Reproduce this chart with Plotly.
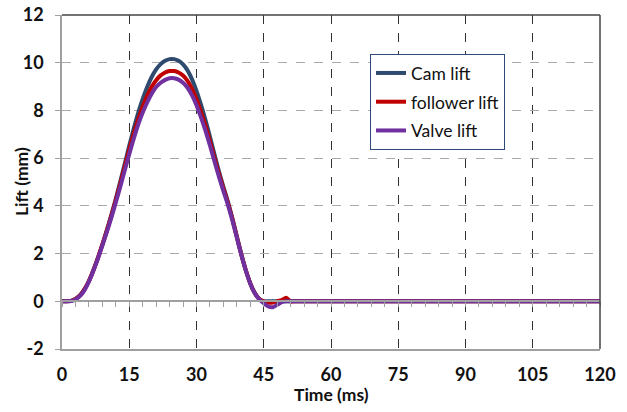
import plotly.graph_objects as go

time_ms = list(range(0, 54)) + [120]

cam_lift = [0, 0, 0.02, 0.1, 0.25, 0.5, 0.85, 1.3, 1.82, 2.38,
            2.98, 3.62, 4.3, 5.02, 5.77, 6.52, 7.24, 7.9, 8.48, 8.98,
            9.4, 9.72, 9.94, 10.08, 10.15, 10.15, 10.08, 9.93, 9.68, 9.3,
            8.82, 8.24, 7.6, 6.9, 6.16, 5.45, 4.8, 4.18, 3.48, 2.72,
            1.97, 1.3, 0.75, 0.35, 0.1, 0, 0, 0, 0, 0,
            0, 0, 0, 0, 0]

follower_lift = [0, 0, 0.02, 0.1, 0.25, 0.5, 0.85, 1.3, 1.81, 2.37,
                 2.96, 3.58, 4.24, 4.93, 5.65, 6.36, 7.03, 7.63, 8.16, 8.61,
                 8.99, 9.27, 9.47, 9.59, 9.65, 9.65, 9.59, 9.46, 9.24, 8.9,
                 8.47, 7.94, 7.36, 6.71, 6.02, 5.34, 4.72, 4.13, 3.45, 2.7,
                 1.96, 1.3, 0.75, 0.35, 0.1, 0.0, -0.05, -0.05, 0.0, 0.05,
                 0.15, 0, 0, 0, 0]

valve_lift = [0, 0, 0.01, 0.08, 0.22, 0.46, 0.82, 1.28, 1.78, 2.33,
              2.9, 3.5, 4.14, 4.8, 5.49, 6.17, 6.82, 7.41, 7.91, 8.34,
              8.7, 8.98, 9.16, 9.28, 9.35, 9.35, 9.29, 9.16, 8.95, 8.63,
              8.22, 7.71, 7.15, 6.53, 5.87, 5.22, 4.62, 4.04, 3.39, 2.66,
              1.94, 1.29, 0.74, 0.34, 0.08, -0.08, -0.22, -0.25, -0.15, -0.04,
              0, 0, 0, 0, 0]

x_ticks = [0, 15, 30, 45, 60, 75, 90, 105, 120]
y_ticks = [-2, 0, 2, 4, 6, 8, 10, 12]

series = [
    ("Cam lift", cam_lift, "#2E4A6E"),
    ("follower lift", follower_lift, "#C00000"),
    ("Valve lift", valve_lift, "#7030A0"),
]

FONT = "Lato"
fig = go.Figure()
for i, (name, vals, col) in enumerate(series):
    fig.add_trace(go.Scatter(
        x=time_ms, y=vals, name=name, mode="lines",
        line=dict(color=col, width=4, shape="spline", smoothing=0.6),
        legendgroup=f"g{i}",
    ))

# helper trace for the zero axis with minor ticks
fig.add_trace(go.Scatter(x=[time_ms[0]], y=[None], xaxis="x2", showlegend=False,
                         hoverinfo="skip", mode="lines"))

fig.update_layout(
    width=627, height=412,
    margin=dict(l=62, r=27, t=15, b=63, autoexpand=False),
    paper_bgcolor="white", plot_bgcolor="white",
    font=dict(family=FONT, size=16, color="#111"),
    showlegend=True,
    legend=dict(
        x=0.5725, y=0.883, xanchor="left", yanchor="top",
        bordercolor="#2F4A7A", borderwidth=1, bgcolor="white",
        font=dict(family=FONT, size=17.5, color="#111"),
        tracegroupgap=3,
    ),
    xaxis=dict(
        range=[0, 120], tickvals=x_ticks, ticktext=[str(v) for v in x_ticks],
        showgrid=True, gridcolor="#333", griddash="dash", gridwidth=1,
        showline=True, linecolor="#A0A0A0", linewidth=1.5,
        ticks="", ticklabelstandoff=9, automargin=False,
        tickfont=dict(family=FONT, size=18, color="#111", weight="bold"),
        zeroline=False,
    ),
    xaxis2=dict(
        range=[0, 120], overlaying="x", anchor="free", position=2 / 14,
        showline=True, linecolor="#A0A0A0", linewidth=1.5,
        ticks="outside", tick0=0, dtick=3, ticklen=5, tickcolor="#A0A0A0",
        showticklabels=False, showgrid=False, zeroline=False, automargin=False,
    ),
    yaxis=dict(
        range=[-2, 12], tickvals=y_ticks, ticktext=[str(v) for v in y_ticks],
        showgrid=True, gridcolor="#AAAAAA", griddash="dash", gridwidth=1,
        showline=True, linecolor="#A0A0A0", linewidth=1.5,
        ticks="outside", ticklen=5, tickcolor="#A0A0A0",
        ticklabelstandoff=8, automargin=False,
        tickfont=dict(family=FONT, size=18, color="#111", weight="bold"),
        zeroline=False,
    ),
    shapes=[
        dict(type="line", xref="paper", yref="paper", x0=0, x1=1, y0=1, y1=1,
             line=dict(color="#444", width=1.5)),
        dict(type="line", xref="paper", yref="paper", x0=1, x1=1, y0=0, y1=1,
             line=dict(color="#444", width=1.5)),
    ],
    annotations=[
        dict(text="<b>Time (ms)</b>", xref="paper", yref="paper", x=0.5, y=-0.1377,
             xanchor="center", yanchor="middle", showarrow=False,
             font=dict(family=FONT, size=17.5, color="#111")),
        dict(text="<b>Lift (mm)</b>", xref="paper", yref="paper", x=-0.0762, y=0.5,
             xanchor="center", yanchor="middle", showarrow=False, textangle=-90,
             font=dict(family=FONT, size=17.5, color="#111")),
    ],
)

fig.write_html("out.html")
